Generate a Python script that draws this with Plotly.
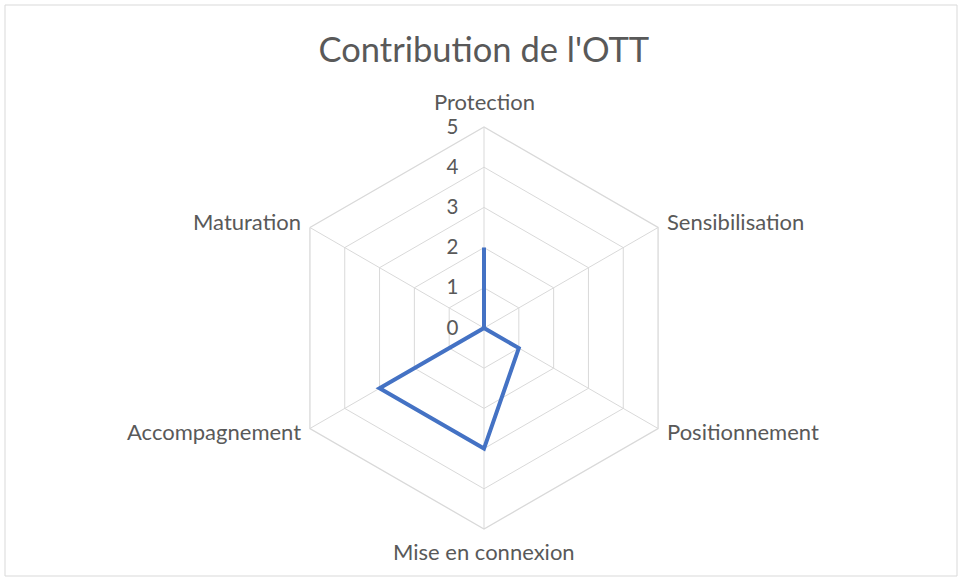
import math
import plotly.graph_objects as go

# Données du radar
categories = ["Protection", "Sensibilisation", "Positionnement",
              "Mise en connexion", "Accompagnement", "Maturation"]
valeurs = [2, 0, 1, 3, 3, 0]
ticks = [0, 1, 2, 3, 4, 5]

W, H = 962, 581
gris_texte = "#595959"
gris_grille = "#D9D9D9"
police = "Lato"

fig = go.Figure()
fig.add_trace(go.Scatterpolar(
    r=valeurs + valeurs[:1],
    theta=categories + categories[:1],
    mode="lines",
    line=dict(color="#4472C4", width=4),
    showlegend=False,
    hoverinfo="skip",
))

# centre (484, 328), rayon ~201 px
cx, cy, rad = 484, 328, 201

# étiquettes des catégories placées comme dans Excel, autour des sommets
annotations = []
for i, nom in enumerate(categories):
    ang = math.radians(90 - 60 * i)
    vx = cx + rad * math.cos(ang)
    vy = cy - rad * math.sin(ang)
    if abs(math.cos(ang)) < 1e-6:
        x, y = vx, vy + (-26 if math.sin(ang) > 0 else 22)
        xa = "center"
    elif math.cos(ang) > 0:
        x, y, xa = vx + 7, vy + (-6 if math.sin(ang) > 0 else 3), "left"
    else:
        x, y, xa = vx - 7, vy + (-6 if math.sin(ang) > 0 else 3), "right"
    annotations.append(dict(text=nom, x=x / W, y=1 - y / H, xref="paper",
                            yref="paper", xanchor=xa, yanchor="middle",
                            showarrow=False,
                            font=dict(size=22, color=gris_texte, family=police)))

fig.update_layout(
    width=W, height=H,
    margin=dict(l=0, r=0, t=0, b=0),
    paper_bgcolor="white",
    plot_bgcolor="white",
    font=dict(family=police, color=gris_texte),
    title=dict(text="Contribution de l'OTT", x=0.503, xanchor="center",
               y=1 - 50 / H, yanchor="middle",
               font=dict(size=34.5, color=gris_texte, family=police)),
    polar=dict(
        gridshape="linear",
        bgcolor="white",
        domain=dict(x=[(cx - rad) / W, (cx + rad) / W],
                    y=[(H - cy - rad) / H, (H - cy + rad) / H]),
        radialaxis=dict(range=[0, 5], tickvals=ticks, angle=90, tickangle=90,
                        showline=False, ticks="outside", ticklen=18,
                        tickcolor="rgba(0,0,0,0)", gridcolor=gris_grille,
                        gridwidth=1.3, side="counterclockwise",
                        tickfont=dict(size=20.5, color=gris_texte)),
        angularaxis=dict(direction="clockwise", rotation=90,
                         showline=True, linecolor=gris_grille, linewidth=1.3,
                         gridcolor=gris_grille, gridwidth=1.3, ticks="",
                         showticklabels=False),
    ),
    annotations=annotations,
    shapes=[dict(type="rect", xref="paper", yref="paper",
                 x0=5 / W, x1=957 / W, y0=5 / H, y1=1 - 5 / H,
                 line=dict(color=gris_grille, width=1))],
)

fig.write_html("out.html", config={"displayModeBar": False},
               post_script="document.body.style.margin='0';")
